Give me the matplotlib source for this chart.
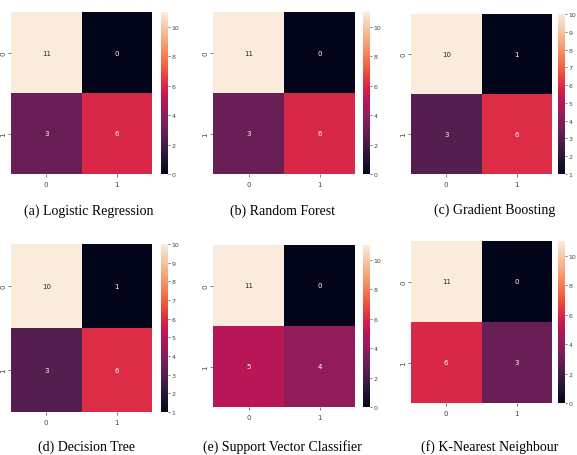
import numpy as np
import matplotlib
matplotlib.use("Agg")
import matplotlib.pyplot as plt
import seaborn as sns

# confusion matrices
titles = ["(a) Logistic Regression", "(b) Random Forest", "(c) Gradient Boosting",
          "(d) Decision Tree", "(e) Support Vector Classifier", "(f) K-Nearest Neighbour"]
cm_lr = [[11, 0], [3, 6]]
cm_rf = [[11, 0], [3, 6]]
cm_gb = [[10, 1], [3, 6]]
cm_dt = [[10, 1], [3, 6]]
cm_svc = [[11, 0], [5, 4]]
cm_knn = [[11, 0], [6, 3]]
matrices = [cm_lr, cm_rf, cm_gb, cm_dt, cm_svc, cm_knn]

W, H = 577, 456
fig = plt.figure(figsize=(W / 100, H / 100), dpi=100)

# pixel boxes: (left, top, width, height) of heatmap, colorbar x, label centre
boxes = [
    (11, 13, 141, 162, 161, 89, 211),
    (213, 13, 142, 162, 363, 283, 211),
    (411, 15, 141, 160, 558, 495, 210),
    (11, 245, 141, 168, 161, 87, 447),
    (213, 246, 142, 162, 363, 282, 447),
    (411, 242, 141, 162, 558, 490, 447),
]


def px_axes(left, top, w, h):
    return fig.add_axes([left / W, 1 - (top + h) / H, w / W, h / H])


for cm, title, (l, t, w, h, cx, lx, ly) in zip(matrices, titles, boxes):
    ax = px_axes(l, t, w, h)
    cax = px_axes(cx, t, 7, h)
    sns.heatmap(np.array(cm), annot=True, fmt="d", ax=ax, cbar_ax=cax,
                annot_kws={"fontsize": 5})
    ax.tick_params(labelsize=5, length=2, width=0.5, pad=3, colors="#444444")
    ax.tick_params(axis="y", pad=1.5)
    cax.tick_params(labelsize=4.5, length=1.5, width=0.5, pad=1, colors="#444444")
    fig.text(lx / W, 1 - ly / H, title, ha="center", va="center",
             family="Liberation Serif", fontsize=10)

fig.savefig("out.png", dpi=100)
